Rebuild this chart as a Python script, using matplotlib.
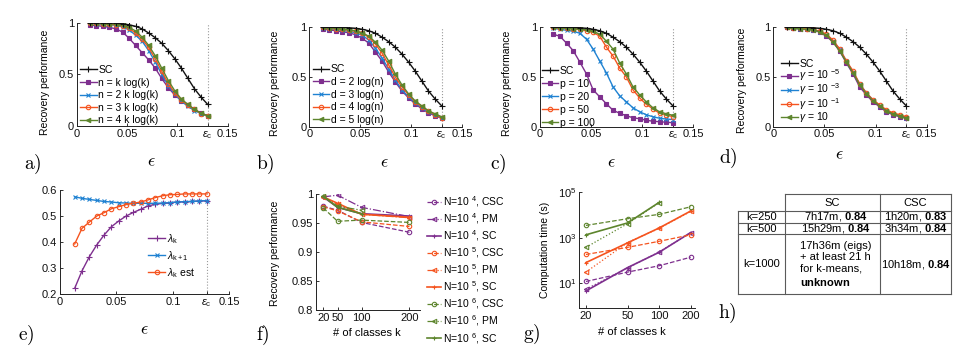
import matplotlib
matplotlib.use('Agg')
import numpy as np
import matplotlib.pyplot as plt
from matplotlib.ticker import NullLocator, FixedLocator, FixedFormatter

plt.rcParams['font.family'] = ['Liberation Sans', 'DejaVu Sans']
plt.rcParams['mathtext.fontset'] = 'custom'
plt.rcParams['mathtext.rm'] = 'Liberation Sans'
plt.rcParams['mathtext.it'] = 'Liberation Sans:italic'
plt.rcParams['mathtext.bf'] = 'Liberation Sans:bold'
plt.rcParams['mathtext.sf'] = 'Liberation Sans'

# ---------------- data ----------------
eps = [0.013, 0.0195, 0.026, 0.0325, 0.039, 0.0455, 0.052, 0.0585, 0.065, 0.0715,
       0.078, 0.0845, 0.091, 0.0975, 0.104, 0.1105, 0.117, 0.1235, 0.13]
eps_c = 0.13

sc_perf = [1.0, 1.0, 1.0, 1.0, 0.995, 0.99, 0.98, 0.965, 0.94, 0.90,
           0.855, 0.80, 0.73, 0.65, 0.56, 0.46, 0.36, 0.28, 0.21]

# a) number of landmarks n
a_labels = ['n = k log(k)', 'n = 2 k log(k)', 'n = 3 k log(k)', 'n = 4 k log(k)']
a_n1 = [0.977, 0.972, 0.965, 0.955, 0.94, 0.91, 0.85, 0.78, 0.71, 0.64, 0.56, 0.46, 0.37, 0.30, 0.245, 0.20, 0.16, 0.125, 0.10]
a_n2 = [0.995, 0.99, 0.985, 0.98, 0.975, 0.96, 0.93, 0.88, 0.82, 0.73, 0.62, 0.50, 0.39, 0.31, 0.24, 0.19, 0.15, 0.12, 0.095]
a_n3 = [1.0, 0.995, 0.99, 0.985, 0.98, 0.97, 0.945, 0.90, 0.84, 0.76, 0.65, 0.53, 0.41, 0.32, 0.25, 0.20, 0.16, 0.12, 0.10]
a_n4 = [1.0, 0.995, 0.99, 0.99, 0.985, 0.975, 0.955, 0.92, 0.86, 0.78, 0.68, 0.56, 0.44, 0.34, 0.26, 0.21, 0.16, 0.125, 0.10]

# b) number of neighbours d
b_labels = ['d = 2 log(n)', 'd = 3 log(n)', 'd = 4 log(n)', 'd = 5 log(n)']
b_d2 = [0.98, 0.975, 0.965, 0.955, 0.945, 0.925, 0.89, 0.84, 0.75, 0.66, 0.55, 0.45, 0.36, 0.29, 0.23, 0.18, 0.14, 0.11, 0.085]
b_d3 = [0.99, 0.985, 0.98, 0.97, 0.96, 0.945, 0.92, 0.87, 0.79, 0.69, 0.58, 0.47, 0.37, 0.30, 0.24, 0.19, 0.15, 0.12, 0.09]
b_d4 = [1.0, 0.99, 0.985, 0.98, 0.97, 0.96, 0.94, 0.90, 0.83, 0.74, 0.62, 0.50, 0.40, 0.32, 0.25, 0.20, 0.16, 0.12, 0.09]
b_d5 = [1.0, 0.995, 0.99, 0.985, 0.975, 0.965, 0.945, 0.91, 0.85, 0.77, 0.66, 0.53, 0.42, 0.33, 0.26, 0.21, 0.16, 0.13, 0.10]

# c) polynomial order p
c_labels = ['p = 10', 'p = 20', 'p = 50', 'p = 100']
c_p10 = [0.93, 0.91, 0.84, 0.765, 0.65, 0.53, 0.37, 0.30, 0.23, 0.165, 0.135, 0.11, 0.09, 0.08, 0.065, 0.055, 0.05, 0.045, 0.04]
c_p20 = [0.99, 0.98, 0.97, 0.96, 0.94, 0.88, 0.78, 0.66, 0.54, 0.40, 0.31, 0.25, 0.19, 0.15, 0.12, 0.10, 0.085, 0.077, 0.072]
c_p50 = [1.0, 0.99, 0.99, 0.985, 0.98, 0.965, 0.95, 0.91, 0.80, 0.71, 0.59, 0.50, 0.37, 0.29, 0.225, 0.18, 0.135, 0.12, 0.10]
c_p100 = [1.0, 0.995, 0.99, 0.985, 0.98, 0.975, 0.96, 0.93, 0.86, 0.78, 0.64, 0.53, 0.40, 0.32, 0.25, 0.19, 0.15, 0.13, 0.115]

# d) regularisation gamma
d_labels = [r'$\gamma$ = 10 $^{-5}$', r'$\gamma$ = 10 $^{-3}$', r'$\gamma$ = 10 $^{-1}$', r'$\gamma$ = 10']
d_g5 = [1.0, 0.99, 0.985, 0.98, 0.975, 0.95, 0.91, 0.85, 0.76, 0.64, 0.53, 0.40, 0.32, 0.25, 0.20, 0.15, 0.12, 0.10, 0.085]
d_g3 = [1.0, 0.99, 0.985, 0.98, 0.975, 0.955, 0.925, 0.86, 0.78, 0.66, 0.55, 0.43, 0.34, 0.27, 0.21, 0.16, 0.13, 0.11, 0.09]
d_g1 = [1.0, 0.995, 0.99, 0.985, 0.98, 0.96, 0.93, 0.87, 0.78, 0.66, 0.56, 0.43, 0.34, 0.27, 0.22, 0.17, 0.14, 0.12, 0.10]
d_g10 = [1.0, 0.99, 0.985, 0.98, 0.975, 0.955, 0.92, 0.85, 0.76, 0.65, 0.54, 0.42, 0.33, 0.26, 0.21, 0.16, 0.13, 0.11, 0.09]

# e) eigenvalues
e_lk = [0.223, 0.29, 0.344, 0.389, 0.427, 0.459, 0.481, 0.50, 0.514, 0.526, 0.539, 0.545, 0.549, 0.551, 0.554, 0.555, 0.556, 0.558, 0.559]
e_lk1 = [0.574, 0.568, 0.564, 0.560, 0.556, 0.554, 0.551, 0.550, 0.549, 0.549, 0.549, 0.549, 0.550, 0.551, 0.554, 0.555, 0.556, 0.558, 0.559]
e_lkest = [0.393, 0.453, 0.477, 0.50, 0.513, 0.528, 0.536, 0.544, 0.549, 0.554, 0.562, 0.571, 0.578, 0.582, 0.583, 0.585, 0.585, 0.585, 0.585]

# f, g) number of classes
k_classes = [20, 50, 100, 200]
fg_labels = ['N=10 $^{4}$, CSC', 'N=10 $^{4}$, PM', 'N=10 $^{4}$, SC',
             'N=10 $^{5}$, CSC', 'N=10 $^{5}$, PM', 'N=10 $^{5}$, SC',
             'N=10 $^{6}$, CSC', 'N=10 $^{6}$, PM', 'N=10 $^{6}$, SC']
f_perf = [
    [0.979, 0.972, 0.951, 0.934],
    [0.995, 0.998, 0.977, 0.961],
    [0.995, 0.977, 0.966, 0.962],
    [0.978, 0.971, 0.952, 0.944],
    [0.995, 0.982, 0.965, 0.959],
    [0.995, 0.984, 0.965, 0.960],
    [0.976, 0.953, 0.955, 0.951],
    [0.996, 0.979, 0.972, np.nan],
    [0.996, 0.977, 0.966, np.nan],
]
g_time = [
    [12, 31, 59, 140],
    [5.5, 47, 240, 1650],
    [4.6, 49, 230, 1700],
    [185, 380, 700, 1350],
    [31, 620, 2600, 14500],
    [81, 600, 2700, 15000],
    [3500, 6900, 10700, 23000],
    [380, 4200, 35000, np.nan],
    [1350, 4500, 36000, np.nan],
]

# h) table
h_cols = ['SC', 'CSC']
h_rows = ['k=250', 'k=500', 'k=1000']
h_sc = [r'7h17m, $\mathbf{0.84}$', r'15h29m, $\mathbf{0.84}$',
        '17h36m (eigs)\n+ at least 21 h\nfor k-means,\n' + r'$\mathbf{unknown}$']
h_csc = [r'1h20m, $\mathbf{0.83}$', r'3h34m, $\mathbf{0.84}$', r'10h18m, $\mathbf{0.84}$']

# ---------------- style ----------------
PURPLE = '#7e2f8e'
BLUE = '#1f82d2'
ORANGE = '#f5541f'
GREEN = '#5d852d'
BLACK = '#111111'
GRID4 = [PURPLE, BLUE, ORANGE, GREEN]
MK4 = ['s', 'x', 'o', '<']

W, H = 970, 360
fig = plt.figure(figsize=(9.7, 3.6), dpi=100)


def rect(l, t, r, b):
    return [l / W, 1 - b / H, (r - l) / W, (b - t) / H]


def base_style(ax):
    for s in ['top', 'right']:
        ax.spines[s].set_visible(False)
    for s in ['left', 'bottom']:
        ax.spines[s].set_linewidth(0.7)
        ax.spines[s].set_color('#222222')
    ax.tick_params(direction='in', length=2.5, width=0.6, labelsize=8, pad=2, colors='#111111')


def eps_axes(ax, ylim, yticks, ylabels):
    base_style(ax)
    ax.set_xlim(0, 0.15)
    ax.set_ylim(*ylim)
    ax.set_xticks([0, 0.05, 0.1, eps_c, 0.15])
    ax.set_xticklabels(['0', '0.05', '0.1', r'$\epsilon_{\mathrm{c}}$', '0.15'])
    ax.set_yticks(yticks)
    ax.set_yticklabels(ylabels)
    ax.axvline(eps_c, color='#9a9a9a', ls=':', lw=0.8, zorder=0)


def put_legend(ax, x, y, **kw):
    opts = dict(loc='upper left', bbox_to_anchor=(x / W, 1 - y / H), bbox_transform=fig.transFigure,
                frameon=False, fontsize=7.5, handlelength=1.6, handletextpad=0.15,
                labelspacing=0.25, borderpad=0, borderaxespad=0)
    opts.update(kw)
    return ax.legend(**opts)


def figtext(x, y, s, **kw):
    fig.text(x / W, 1 - y / H, s, ha='center', va='center', **kw)


def recovery_panel(r, series, labels, leg_xy, ylab_xy, leg_kw=None):
    ax = fig.add_axes(rect(*r))
    eps_axes(ax, (0, 1), [0, 0.5, 1], ['0', '0.5', '1'])
    ax.plot(eps, sc_perf, color=BLACK, marker='+', ms=4, mew=0.8, lw=1.0, label='SC', zorder=5)
    for ys, c, m, lab in zip(series, GRID4, MK4, labels):
        mfc = 'none' if m == 'o' else c
        ms = 2.6 if m == 's' else 3.2
        ax.plot(eps, ys, color=c, marker=m, ms=ms, mew=0.8, mfc=mfc, lw=1.0, label=lab)
    put_legend(ax, *leg_xy, **(leg_kw or {}))
    ax.set_ylabel('Recovery performance', fontsize=7.5, labelpad=0)
    ax.yaxis.set_label_coords(*ylab_xy)
    return ax


recovery_panel((76.7, 22.7, 227.7, 126), [a_n1, a_n2, a_n3, a_n4], a_labels, (80, 65), (-0.18, 0.42))
recovery_panel((309.3, 27.3, 462, 126.7), [b_d2, b_d3, b_d4, b_d5], b_labels, (312.7, 64.5), (-0.19, 0.44))
recovery_panel((540, 27.3, 693.3, 126.7), [c_p10, c_p20, c_p50, c_p100], c_labels, (541.7, 65.5), (-0.185, 0.44),
               dict(labelspacing=0.3))
recovery_panel((773.3, 27.3, 926.7, 126.7), [d_g5, d_g3, d_g1, d_g10], d_labels, (781, 59), (-0.173, 0.47),
               dict(labelspacing=-0.15))

# e)
ax = fig.add_axes(rect(60, 190, 229.3, 294.3))
eps_axes(ax, (0.2, 0.6), [0.2, 0.3, 0.4, 0.5, 0.6], ['0.2', '0.3', '0.4', '0.5', '0.6'])
ax.plot(eps, e_lk, color=PURPLE, marker='+', ms=4, mew=0.8, lw=1.0, label=r'$\lambda_{\mathrm{k}}$')
ax.plot(eps, e_lk1, color=BLUE, marker='x', ms=3.2, mew=0.8, lw=1.0, label=r'$\lambda_{\mathrm{k+1}}$')
ax.plot(eps, e_lkest, color=ORANGE, marker='o', ms=3.2, mew=0.8, mfc='none', lw=1.0,
        label=r'$\lambda_{\mathrm{k}}$ est')
put_legend(ax, 148.3, 232, labelspacing=0.3)

# f)
styles = [('--', 'o'), ('-.', '<'), ('-', '+')] * 3
colors9 = [PURPLE] * 3 + [ORANGE] * 3 + [GREEN] * 3
ax = fig.add_axes(rect(316, 194, 420, 310))
base_style(ax)
for ys, (ls, m), c, lab in zip(f_perf, styles, colors9, fg_labels):
    lw = 1.2 if ls == '-' else 0.9
    ax.plot(k_classes, ys, color=c, ls=ls, marker=m, ms=3.2, mew=0.8, mfc='none', lw=lw, label=lab)
ax.set_xlim(5, 222)
ax.set_ylim(0.8, 1.0)
ax.set_xticks(k_classes)
ax.set_xticklabels([str(k) for k in k_classes])
ax.set_yticks([0.8, 0.85, 0.9, 0.95, 1.0])
ax.set_yticklabels(['0.8', '0.85', '0.9', '0.95', '1'])
ax.set_ylabel('Recovery performance', fontsize=7.5, labelpad=0)
ax.yaxis.set_label_coords(-0.35, 0.49)
put_legend(ax, 426.7, 194, labelspacing=0.22, handlelength=1.4)

# g)
ax = fig.add_axes(rect(579.3, 192.3, 695, 308.3))
base_style(ax)
for ys, (ls, m), c in zip(g_time, styles, colors9):
    ls2 = ':' if ls == '-.' else ls
    lw = 1.2 if ls == '-' else 0.9
    ax.plot(k_classes, ys, color=c, ls=ls2, marker=m, ms=3.2, mew=0.8, mfc='none', lw=lw)
ax.set_xscale('log')
ax.set_yscale('log')
ax.set_xlim(17.3, 220)
ax.set_ylim(10 ** -0.1, 1e5)
ax.xaxis.set_major_locator(FixedLocator(k_classes))
ax.xaxis.set_major_formatter(FixedFormatter([str(k) for k in k_classes]))
ax.xaxis.set_minor_locator(NullLocator())
ax.yaxis.set_major_locator(FixedLocator([10, 1e3, 1e5]))
ax.yaxis.set_major_formatter(FixedFormatter([r'$10^{1}$', r'$10^{3}$', r'$10^{5}$']))
ax.yaxis.set_minor_locator(NullLocator())
ax.set_ylabel('Computation time (s)', fontsize=7.5, labelpad=0)
ax.yaxis.set_label_coords(-0.25, 0.5)

# h) table
ax = fig.add_axes(rect(738, 194, 951, 294.3))
ax.set_xlim(738, 951)
ax.set_ylim(294.3, 194)
ax.axis('off')
xe = [738, 785, 880, 951]
ye = [194, 211, 222.7, 234.3, 294.3]
lc = dict(color='#5a5a5a', lw=0.8, clip_on=False)
ax.plot([xe[1], xe[3]], [ye[0], ye[0]], **lc)
for yy in ye[1:]:
    ax.plot([xe[0], xe[3]], [yy, yy], **lc)
ax.plot([xe[0], xe[0]], [ye[1], ye[4]], **lc)
for xx in xe[1:]:
    ax.plot([xx, xx], [ye[0], ye[4]], **lc)
tfs = 8
for j, name in enumerate(h_cols):
    ax.text((xe[j + 1] + xe[j + 2]) / 2, (ye[0] + ye[1]) / 2, name, ha='center', va='center', fontsize=tfs)
for i, name in enumerate(h_rows):
    yc = (ye[i + 1] + ye[i + 2]) / 2
    ax.text((xe[0] + xe[1]) / 2, yc, name, ha='center', va='center', fontsize=tfs)
    ax.text((xe[1] + xe[2]) / 2 + 3, yc, h_sc[i], ha='center', va='center', fontsize=tfs,
            multialignment='left', linespacing=1.2)
    ax.text((xe[2] + xe[3]) / 2, yc, h_csc[i], ha='center', va='center', fontsize=tfs)

# ---------------- annotations ----------------
for (x, y) in [(151.7, 161.7), (384, 163), (611.7, 163), (839, 155), (144.3, 330)]:
    figtext(x, y, r'$\epsilon$', fontsize=13, math_fontfamily='cm')
figtext(367, 333, '# of classes k', fontsize=8)
figtext(632, 332, '# of classes k', fontsize=8)

for lab, (x, y) in zip(['a)', 'b)', 'c)', 'd)', 'e)', 'f)', 'g)', 'h)'],
                       [(33, 164), (265, 164), (498, 164), (728, 158), (26, 335), (263, 335), (532, 334), (727, 313)]):
    figtext(x, y, r'$\mathrm{' + lab + '}$', fontsize=14, math_fontfamily='cm')

fig.savefig('out.png', dpi=100)
